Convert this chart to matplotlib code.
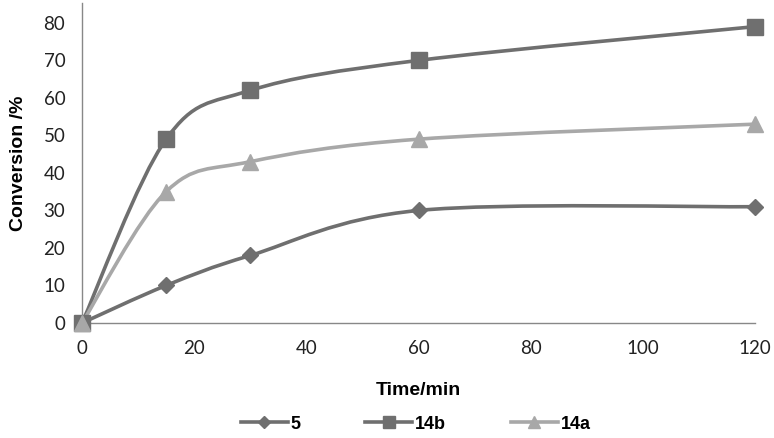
import matplotlib
matplotlib.use("Agg")
import matplotlib.pyplot as plt
from matplotlib.path import Path
from matplotlib.patches import PathPatch
from matplotlib.lines import Line2D
import numpy as np

time_min = [0, 15, 30, 60, 120]
conv_5 = [0, 10, 18, 30, 31]
conv_14b = [0, 49, 62, 70, 79]
conv_14a = [0, 35, 43, 49, 53]
series_names = ["5", "14b", "14a"]
x_ticks = [0, 20, 40, 60, 80, 100, 120]
y_ticks = [0, 10, 20, 30, 40, 50, 60, 70, 80]

dark = "#6f6f6f"
light = "#a8a8a8"
styles = [
    dict(color=dark, marker="D", ms=8.5),
    dict(color=dark, marker="s", ms=11),
    dict(color=light, marker="^", ms=12),
]

def smooth_path(xs, ys):
    pts = np.column_stack([xs, ys]).astype(float)
    n = len(pts)
    verts = [pts[0]]
    codes = [Path.MOVETO]
    for i in range(n - 1):
        p0 = pts[i - 1] if i > 0 else pts[i]
        p1 = pts[i]
        p2 = pts[i + 1]
        p3 = pts[i + 2] if i + 2 < n else pts[i + 1]
        c1 = p1 + (p2 - p0) / 6.0
        c2 = p2 - (p3 - p1) / 6.0
        verts += [c1, c2, p2]
        codes += [Path.CURVE4] * 3
    return Path(verts, codes)

fig = plt.figure(figsize=(7.74, 4.38), dpi=100)
ax = fig.add_axes([82 / 774, 1 - 323 / 438, (755 - 82) / 774, 320 / 438])

all_series = [conv_5, conv_14b, conv_14a]
handles = []
for name, ys, st in zip(series_names, all_series, styles):
    patch = PathPatch(smooth_path(time_min, ys), facecolor="none",
                      edgecolor=st["color"], lw=2.6, transform=ax.transData,
                      capstyle="round", joinstyle="round")
    ax.add_patch(patch)
    ax.plot(time_min, ys, linestyle="none", marker=st["marker"],
            ms=st["ms"], color=st["color"], mec=st["color"], clip_on=False, zorder=3)
    handles.append(Line2D([], [], color=st["color"], lw=2.6, marker=st["marker"],
                          ms=st["ms"] * 0.75, label=name))

ax.set_xlim(0, 120)
ax.set_ylim(0, 85.3)
ax.set_xticks(x_ticks)
ax.set_yticks(y_ticks)
for s in ["top", "right"]:
    ax.spines[s].set_visible(False)
for s in ["left", "bottom"]:
    ax.spines[s].set_color("#888888")
    ax.spines[s].set_linewidth(1.0)
ax.tick_params(length=0, labelsize=13.5, pad=12, colors="#222222")
for lab in ax.get_xticklabels() + ax.get_yticklabels():
    lab.set_fontfamily("Lato")

ax.set_xlabel("Time/min", fontsize=14, fontweight="bold", family="Liberation Sans", labelpad=18)
ax.set_ylabel("Conversion /%", fontsize=14, fontweight="bold", family="Liberation Sans", labelpad=12)

leg = fig.legend(handles=handles, loc="lower center", bbox_to_anchor=(0.537, -0.025), ncol=3,
                 frameon=False, columnspacing=3.6, handlelength=2.6, handletextpad=0.15,
                 prop=dict(family="Liberation Sans", weight="bold", size=13))

fig.savefig("out.png", dpi=100)
